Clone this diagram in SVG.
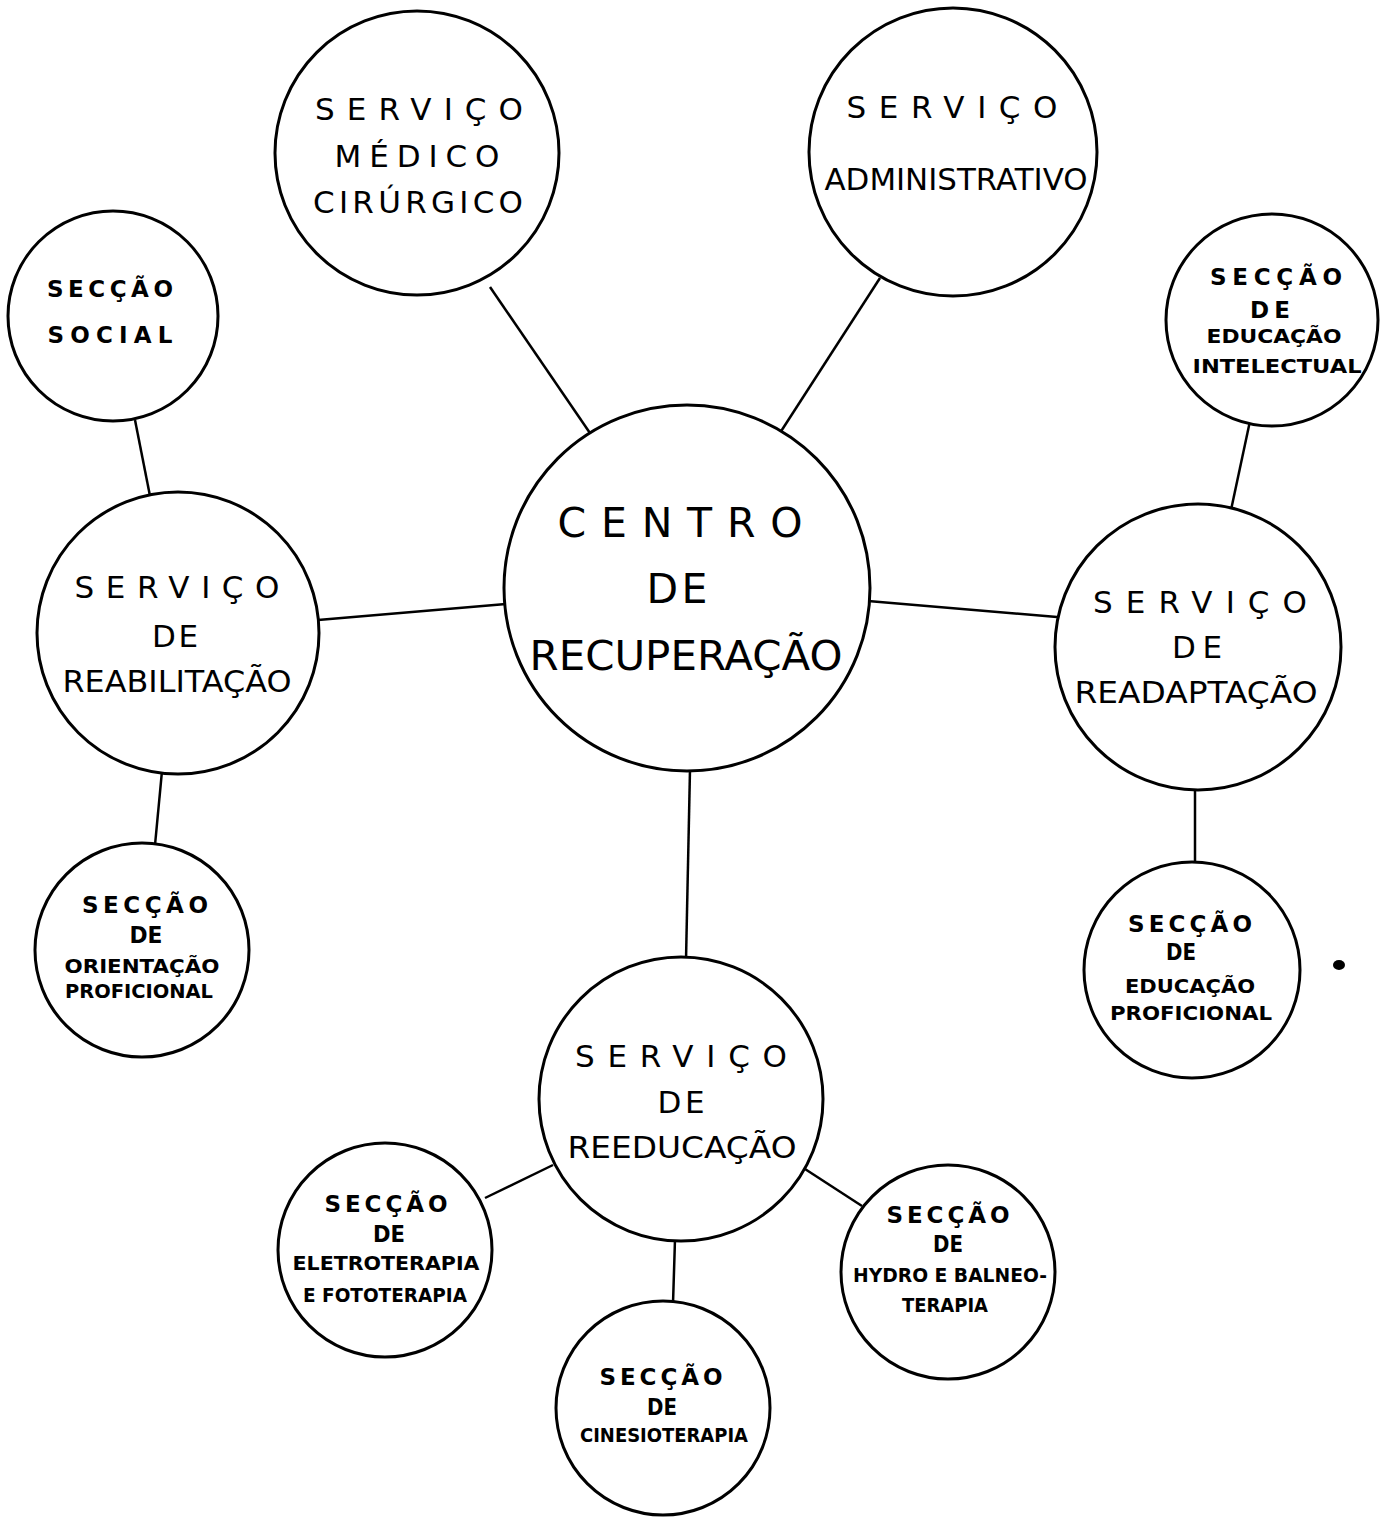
<svg xmlns="http://www.w3.org/2000/svg" width="1396" height="1517" viewBox="0 0 1396 1517">
<style>
.c{fill:#fff;stroke:#000;stroke-width:3}
.l{stroke:#000;stroke-width:2.5;fill:none}
.b{font-family:"DejaVu Sans","Liberation Sans",sans-serif;font-size:31px;fill:#000;text-anchor:middle}
.big{font-size:41px}
.s{font-family:"DejaVu Sans","Liberation Sans",sans-serif;font-weight:bold;font-size:20px;fill:#000;text-anchor:middle}
.h{font-size:23px}
</style>
<rect width="1396" height="1517" fill="#fff"/>
<g id="connectors">
<line class="l" x1="490" y1="287" x2="592" y2="436"/>
<line class="l" x1="880" y1="278" x2="778" y2="436"/>
<line class="l" x1="135" y1="420" x2="150" y2="496"/>
<line class="l" x1="318" y1="620" x2="506" y2="604"/>
<line class="l" x1="162" y1="771" x2="155" y2="845"/>
<line class="l" x1="868" y1="601" x2="1057" y2="617"/>
<line class="l" x1="1250" y1="421" x2="1231" y2="510"/>
<line class="l" x1="1195" y1="786" x2="1195" y2="864"/>
<line class="l" x1="690" y1="769" x2="686" y2="960"/>
<line class="l" x1="553" y1="1165" x2="485" y2="1198"/>
<line class="l" x1="805" y1="1169" x2="862" y2="1206"/>
<line class="l" x1="675" y1="1239" x2="673" y2="1304"/>
</g>
<g id="medico">
<circle class="c" cx="417" cy="153" r="142"/>
<text class="b" x="419" y="120" textLength="208" lengthAdjust="spacing">SERVIÇO</text>
<text class="b" x="417" y="167" textLength="165" lengthAdjust="spacing">MÉDICO</text>
<text class="b" x="418" y="213" textLength="210" lengthAdjust="spacing">CIRÚRGICO</text>
</g>
<g id="administrativo">
<circle class="c" cx="953" cy="152" r="144"/>
<text class="b" x="952" y="118" textLength="211" lengthAdjust="spacing">SERVIÇO</text>
<text class="b" x="956" y="190" textLength="263" lengthAdjust="spacingAndGlyphs">ADMINISTRATIVO</text>
</g>
<g id="social">
<circle class="c" cx="113" cy="316" r="105"/>
<text class="s h" x="110" y="297" textLength="126" lengthAdjust="spacing">SECÇÃO</text>
<text class="s h" x="110" y="343" textLength="125" lengthAdjust="spacing">SOCIAL</text>
</g>
<g id="intelectual">
<circle class="c" cx="1272" cy="320" r="106"/>
<text class="s h" x="1276" y="285" textLength="132" lengthAdjust="spacing">SECÇÃO</text>
<text class="s h" x="1270" y="318" textLength="40" lengthAdjust="spacing">DE</text>
<text class="s" x="1274" y="343" textLength="135" lengthAdjust="spacingAndGlyphs">EDUCAÇÃO</text>
<text class="s" x="1277" y="373" textLength="169" lengthAdjust="spacingAndGlyphs">INTELECTUAL</text>
</g>
<g id="centro">
<circle class="c" cx="687" cy="588" r="183"/>
<text class="b big" x="680" y="537" textLength="245" lengthAdjust="spacing">CENTRO</text>
<text class="b big" x="677" y="603" textLength="61" lengthAdjust="spacing">DE</text>
<text class="b big" x="686" y="670" textLength="313" lengthAdjust="spacingAndGlyphs">RECUPERAÇÃO</text>
</g>
<g id="reabilitacao">
<circle class="c" cx="178" cy="633" r="141"/>
<text class="b" x="177" y="598" textLength="205" lengthAdjust="spacing">SERVIÇO</text>
<text class="b" x="175" y="647" textLength="46" lengthAdjust="spacing">DE</text>
<text class="b" x="177" y="692" textLength="229" lengthAdjust="spacingAndGlyphs">REABILITAÇÃO</text>
</g>
<g id="readaptacao">
<circle class="c" cx="1198" cy="647" r="143"/>
<text class="b" x="1200" y="613" textLength="214" lengthAdjust="spacing">SERVIÇO</text>
<text class="b" x="1197" y="658" textLength="50" lengthAdjust="spacing">DE</text>
<text class="b" x="1196" y="703" textLength="243" lengthAdjust="spacingAndGlyphs">READAPTAÇÃO</text>
</g>
<g id="orientacao">
<circle class="c" cx="142" cy="950" r="107"/>
<text class="s h" x="145" y="913" textLength="126" lengthAdjust="spacing">SECÇÃO</text>
<text class="s h" x="146" y="943" textLength="33" lengthAdjust="spacingAndGlyphs">DE</text>
<text class="s" x="142" y="973" textLength="155" lengthAdjust="spacingAndGlyphs">ORIENTAÇÃO</text>
<text class="s" x="139" y="998" textLength="148" lengthAdjust="spacingAndGlyphs">PROFICIONAL</text>
</g>
<g id="educacao-proficional">
<circle class="c" cx="1192" cy="970" r="108"/>
<text class="s h" x="1190" y="932" textLength="124" lengthAdjust="spacing">SECÇÃO</text>
<text class="s h" x="1181" y="960" textLength="30" lengthAdjust="spacingAndGlyphs">DE</text>
<text class="s" x="1190" y="993" textLength="130" lengthAdjust="spacingAndGlyphs">EDUCAÇÃO</text>
<text class="s" x="1191" y="1020" textLength="162" lengthAdjust="spacingAndGlyphs">PROFICIONAL</text>
</g>
<g id="reeducacao">
<circle class="c" cx="681" cy="1099" r="142"/>
<text class="b" x="681" y="1067" textLength="212" lengthAdjust="spacing">SERVIÇO</text>
<text class="b" x="681" y="1113" textLength="47" lengthAdjust="spacing">DE</text>
<text class="b" x="682" y="1158" textLength="229" lengthAdjust="spacingAndGlyphs">REEDUCAÇÃO</text>
</g>
<g id="eletroterapia">
<circle class="c" cx="385" cy="1250" r="107"/>
<text class="s h" x="386" y="1212" textLength="123" lengthAdjust="spacing">SECÇÃO</text>
<text class="s h" x="389" y="1242" textLength="32" lengthAdjust="spacingAndGlyphs">DE</text>
<text class="s" x="386" y="1270" textLength="187" lengthAdjust="spacingAndGlyphs">ELETROTERAPIA</text>
<text class="s" x="385" y="1302" textLength="164" lengthAdjust="spacingAndGlyphs">E FOTOTERAPIA</text>
</g>
<g id="cinesioterapia">
<circle class="c" cx="663" cy="1408" r="107"/>
<text class="s h" x="661" y="1385" textLength="123" lengthAdjust="spacing">SECÇÃO</text>
<text class="s h" x="662" y="1415" textLength="30" lengthAdjust="spacingAndGlyphs">DE</text>
<text class="s" x="664" y="1442" textLength="168" lengthAdjust="spacingAndGlyphs">CINESIOTERAPIA</text>
</g>
<g id="hydro">
<circle class="c" cx="948" cy="1272" r="107"/>
<text class="s h" x="948" y="1223" textLength="123" lengthAdjust="spacing">SECÇÃO</text>
<text class="s h" x="948" y="1252" textLength="30" lengthAdjust="spacingAndGlyphs">DE</text>
<text class="s" x="950" y="1282" textLength="194" lengthAdjust="spacingAndGlyphs">HYDRO E BALNEO-</text>
<text class="s" x="945" y="1312" textLength="86" lengthAdjust="spacingAndGlyphs">TERAPIA</text>
</g>
<ellipse cx="1339" cy="965" rx="6" ry="5" fill="#000"/>
</svg>
